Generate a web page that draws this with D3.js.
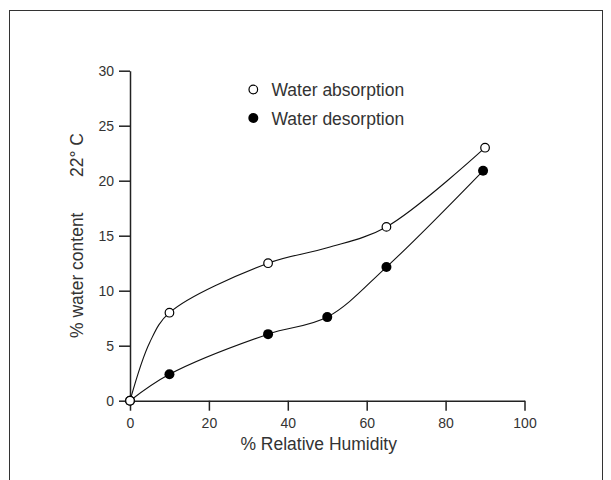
<!DOCTYPE html>
<html>
<head>
<meta charset="utf-8">
<script src="https://cdn.jsdelivr.net/npm/d3@7"></script>
<style>
  html, body { margin: 0; padding: 0; background: #fff; }
  svg { display: block; font-family: "Liberation Sans", Arial, Helvetica, sans-serif; }
</style>
</head>
<body>
<svg id="chart" width="611" height="480"></svg>
<script>
// ---- data ----
const xTicks = [0, 20, 40, 60, 80, 100];
const yTicks = [0, 5, 10, 15, 20, 25, 30];

// marked measurements
const absorptionX = [0, 10, 35, 65, 90];
const absorptionY = [0, 8, 12.5, 15.8, 23];
const desorptionX = [0, 10, 35, 50, 65, 89.5];
const desorptionY = [0, 2.4, 6.05, 7.6, 12.15, 20.9];

// points the drawn absorption curve passes through (includes unmarked bends)
const absorptionCurveX = [0, 5, 10, 35, 50, 65, 90];
const absorptionCurveY = [0, 5.3, 8, 12.5, 13.9, 15.8, 23];

const legendLabels = ["Water absorption", "Water desorption"];
const xTitle = "% Relative Humidity";
const yTitle = "% water content";
const yTitle2 = "22° C";

// ---- drawing ----
const svg = d3.select("#chart");
const ink = "#222";

svg.append("rect")
  .attr("x", 9.5).attr("y", 10.5)
  .attr("width", 593).attr("height", 520)
  .attr("fill", "none").attr("stroke", "#333").attr("stroke-width", 1);

const x = d3.scaleLinear().domain([0, 100]).range([130, 524.5]);
const y = d3.scaleLinear().domain([0, 30]).range([400.7, 70.7]);

const xAxis = svg.append("g")
  .attr("transform", `translate(0,${y(0)})`)
  .call(d3.axisBottom(x).tickValues(xTicks).tickSize(10).tickSizeOuter(0).tickPadding(7));
const yAxis = svg.append("g")
  .attr("transform", `translate(${x(0)},0)`)
  .call(d3.axisLeft(y).tickValues(yTicks).tickSize(11).tickSizeOuter(0).tickPadding(5));

[xAxis, yAxis].forEach(g => {
  g.selectAll("path.domain").attr("stroke", ink).attr("stroke-width", 1.5);
  g.selectAll(".tick line").attr("stroke", ink).attr("stroke-width", 1.5);
  g.selectAll(".tick text")
    .attr("fill", "#333")
    .style("font-size", "14px")
    .style("font-family", '"Liberation Sans", Arial, sans-serif');
});

const line = d3.line().x(d => x(d[0])).y(d => y(d[1])).curve(d3.curveCatmullRom.alpha(0.5));

const absCurve = absorptionCurveX.map((v, i) => [v, absorptionCurveY[i]]);
const desPts = desorptionX.map((v, i) => [v, desorptionY[i]]);
const absPts = absorptionX.map((v, i) => [v, absorptionY[i]]);

svg.append("path").datum(absCurve)
  .attr("d", line).attr("fill", "none").attr("stroke", "#111").attr("stroke-width", 1.1);
svg.append("path").datum(desPts)
  .attr("d", line).attr("fill", "none").attr("stroke", "#111").attr("stroke-width", 1.1);

svg.selectAll("circle.des").data(desPts).enter().append("circle")
  .attr("class", "des")
  .attr("cx", d => x(d[0])).attr("cy", d => y(d[1])).attr("r", 5)
  .attr("fill", "#000");
svg.selectAll("circle.abs").data(absPts).enter().append("circle")
  .attr("class", "abs")
  .attr("cx", d => x(d[0])).attr("cy", d => y(d[1])).attr("r", 4.3)
  .attr("fill", "#fff").attr("stroke", "#000").attr("stroke-width", 1.2);

// legend
const legend = svg.append("g");
legend.append("circle").attr("cx", 253.3).attr("cy", 89.5).attr("r", 4.3)
  .attr("fill", "#fff").attr("stroke", "#000").attr("stroke-width", 1.2);
legend.append("circle").attr("cx", 253.3).attr("cy", 118).attr("r", 5)
  .attr("fill", "#000");
legend.selectAll("text").data(legendLabels).enter().append("text")
  .attr("x", 271.5).attr("y", (d, i) => 95.5 + i * 29.5)
  .attr("fill", "#333").style("font-size", "17.5px")
  .text(d => d);

// axis titles
svg.append("text")
  .attr("x", 318.7).attr("y", 450)
  .attr("text-anchor", "middle")
  .attr("fill", "#333").style("font-size", "17.5px")
  .text(xTitle);

svg.append("text")
  .attr("transform", "translate(83,338) rotate(-90)")
  .attr("text-anchor", "start")
  .attr("fill", "#333").style("font-size", "17.5px")
  .text(yTitle);
svg.append("text")
  .attr("transform", "translate(83,177) rotate(-90)")
  .attr("text-anchor", "start")
  .attr("fill", "#333").style("font-size", "17.5px")
  .text(yTitle2);
</script>
</body>
</html>
